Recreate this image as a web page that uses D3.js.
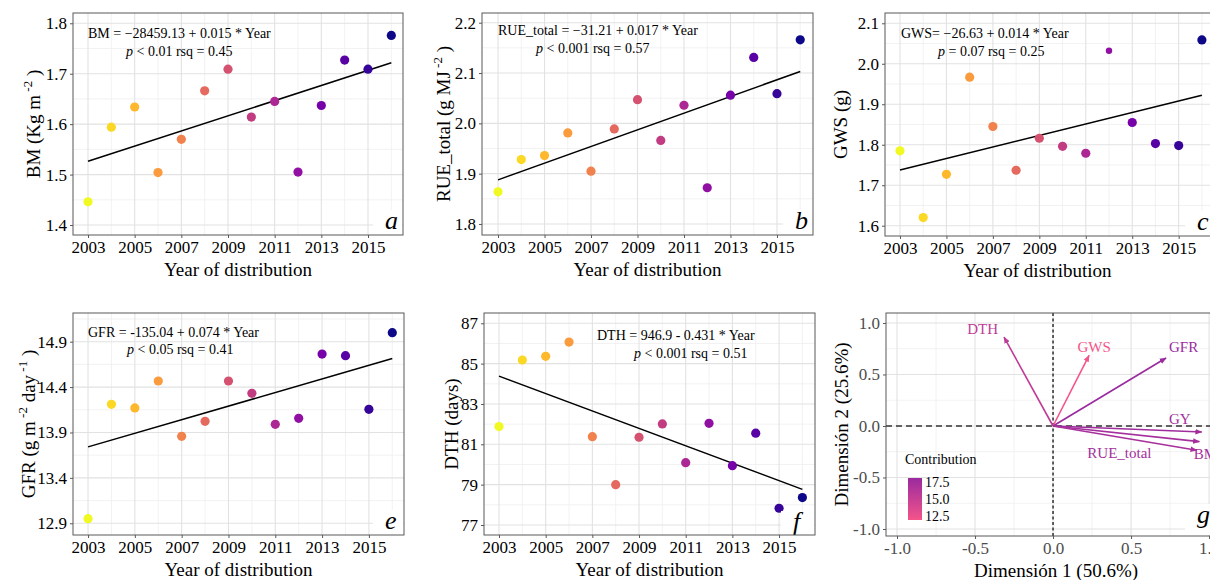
<!DOCTYPE html>
<html>
<head>
<meta charset="utf-8">
<script src="https://d3js.org/d3.v7.min.js"></script>
<style>
  body { margin: 0; background: #fff; }
  svg, svg text { font-family: "Liberation Serif", "Times New Roman", serif; }
</style>
</head>
<body>
<svg id="chart" width="1210" height="580"></svg>
<script>
// data
const years = [2003, 2004, 2005, 2006, 2007, 2008, 2009, 2010, 2011, 2012, 2013, 2014, 2015, 2016];
const bm  = [1.446, 1.594, 1.634, 1.504, 1.570, 1.666, 1.709, 1.614, 1.645, 1.505, 1.637, 1.727, 1.709, 1.776];
const rue = [1.864, 1.928, 1.936, 1.981, 1.905, 1.989, 2.047, 1.966, 2.036, 1.872, 2.056, 2.131, 2.059, 2.166];
const gws = [1.785, 1.620, 1.727, 1.967, 1.845, 1.737, 1.816, 1.796, 1.779, 2.032, 1.855, 1.803, 1.798, 2.059];
const gfr = [12.951, 14.210, 14.170, 14.467, 13.858, 14.023, 14.467, 14.331, 13.990, 14.056, 14.764, 14.746, 14.155, 14.999];
const dth = [81.88, 85.18, 85.36, 86.07, 81.38, 79.00, 81.35, 82.01, 80.09, 82.04, 79.94, 81.55, 77.83, 78.36];

const yearTicks = [2003, 2005, 2007, 2009, 2011, 2013, 2015];
const bmTicks  = [1.4, 1.5, 1.6, 1.7, 1.8];
const rueTicks = [1.8, 1.9, 2.0, 2.1, 2.2];
const gwsTicks = [1.6, 1.7, 1.8, 1.9, 2.0, 2.1];
const gfrTicks = [12.9, 13.4, 13.9, 14.4, 14.9];
const dthTicks = [77, 79, 81, 83, 85, 87];
const gwsSmallYear = 2012;

const pcaVars    = ["DTH", "GWS", "GFR", "GY", "RUE_total", "BM"];
const pcaDim1    = [-0.314, 0.231, 0.724, 0.953, 0.938, 0.921];
const pcaDim2    = [0.863, 0.686, 0.660, -0.058, -0.152, -0.235];
const pcaContrib = [15.6, 11.9, 18.1, 17.6, 17.4, 17.2];
const pcaTicks   = [-1.0, -0.5, 0.0, 0.5, 1.0];
const contribTicks = [12.5, 15.0, 17.5];

// label placement next to each arrow tip (dx, dy, anchor)
const pcaNudge = [[-6, -3, "end"], [5, -3, "middle"], [3, -6, "start"], [-22, -8, "middle"], [-80, 16, "middle"], [-3, 9, "start"]];

const svg = d3.select("#chart");
const ink = "#595959";
const serif = "'Liberation Serif', 'Times New Roman', serif";
const pointColor = i => d3.interpolatePlasma(1 - i / (years.length - 1));

const panels = [
  { key: "a", values: bm, ticks: bmTicks, fmt: d3.format(".1f"),
    box: [73, 403, 13, 235], xd: [2002.357, 2016.5], yd: [1.3802, 1.8204],
    title: [["BM (Kg m"], [" -2", 1], [" )"]], titleX: 40,
    eq: [88, 38, "BM = \u221228459.13 + 0.015 * Year"], eq2: [126, 56, " < 0.01 rsq = 0.45"],
    letter: [385, 229] },
  { key: "b", values: rue, ticks: rueTicks, fmt: d3.format(".1f"),
    box: [482, 813, 13, 235], xd: [2002.31, 2016.55], yd: [1.7781, 2.2193],
    title: [["RUE_total (g MJ"], [" -2", 1], [" )"]], titleX: 450,
    eq: [498, 35, "RUE_total = \u221231.21 + 0.017 * Year"], eq2: [536, 53, " < 0.001 rsq = 0.57"],
    letter: [795, 229] },
  { key: "c", values: gws, ticks: gwsTicks, fmt: d3.format(".1f"),
    box: [885, 1217, 13, 236], xd: [2002.355, 2016.65], yd: [1.5746, 2.1254],
    title: [["GWS (g)"]], titleX: 847,
    eq: [901, 38, "GWS= \u221226.63 + 0.014 * Year"], eq2: [938, 56, " = 0.07 rsq = 0.25"],
    letter: [1197, 230] },
  { key: "e", values: gfr, ticks: gfrTicks, fmt: d3.format(".1f"),
    box: [73, 404, 313, 535], xd: [2002.357, 2016.5], yd: [12.771, 15.216],
    title: [["GFR (g m"], [" -2", 1], [" day"], [" -1", 1], [" )"]], titleX: 35,
    eq: [88, 337, "GFR = -135.04 + 0.074 * Year"], eq2: [127, 354, " < 0.05 rsq = 0.41"],
    letter: [385, 529] },
  { key: "f", values: dth, ticks: dthTicks, fmt: d3.format("d"),
    box: [484, 815, 313, 535], xd: [2002.357, 2016.54], yd: [76.504, 87.51],
    title: [["DTH (days)"]], titleX: 458,
    eq: [597, 340, "DTH = 946.9 - 0.431 * Year"], eq2: [634, 358, " < 0.001 rsq = 0.51"],
    letter: [793, 530] }
];

function minorTicks(ticks, domain) {
  const step = ticks[1] - ticks[0], out = [];
  for (let v = ticks[0] - step / 2; v <= domain[1]; v += step) {
    if (v >= domain[0]) out.push(v);
  }
  return out;
}

function fit(xs, ys) {
  const mx = d3.mean(xs), my = d3.mean(ys);
  let sxy = 0, sxx = 0;
  xs.forEach((x, i) => { sxy += (x - mx) * (ys[i] - my); sxx += (x - mx) * (x - mx); });
  const b = sxy / sxx;
  return x => my + b * (x - mx);
}

function frame(g, box, x, y, xMajor, xMinor, yMajor, yMinor) {
  const [x0, x1, y0, y1] = box;
  g.append("rect").attr("x", x0).attr("y", y0).attr("width", x1 - x0).attr("height", y1 - y0).attr("fill", "#fff");
  g.selectAll(".vmin").data(xMinor).join("line")
    .attr("x1", d => x(d)).attr("x2", d => x(d)).attr("y1", y0).attr("y2", y1)
    .attr("stroke", "#efefef").attr("stroke-width", 0.8);
  g.selectAll(".hmin").data(yMinor).join("line")
    .attr("y1", d => y(d)).attr("y2", d => y(d)).attr("x1", x0).attr("x2", x1)
    .attr("stroke", "#efefef").attr("stroke-width", 0.8);
  g.selectAll(".vmaj").data(xMajor).join("line")
    .attr("x1", d => x(d)).attr("x2", d => x(d)).attr("y1", y0).attr("y2", y1)
    .attr("stroke", "#e2e2e2").attr("stroke-width", 1.1);
  g.selectAll(".hmaj").data(yMajor).join("line")
    .attr("y1", d => y(d)).attr("y2", d => y(d)).attr("x1", x0).attr("x2", x1)
    .attr("stroke", "#e2e2e2").attr("stroke-width", 1.1);
}

function border(g, box) {
  const [x0, x1, y0, y1] = box;
  g.append("rect").attr("x", x0).attr("y", y0).attr("width", x1 - x0).attr("height", y1 - y0)
    .attr("fill", "none").attr("stroke", ink).attr("stroke-width", 1);
}

function styleAxis(sel, color, size) {
  sel.attr("font-family", serif).attr("font-size", size);
  sel.select(".domain").remove();
  sel.selectAll(".tick line").attr("stroke", ink);
  sel.selectAll(".tick text").attr("fill", color).style("font-size", size + "px")
    .style("font-family", serif);
}

function yTitle(g, parts, xPos, yMid) {
  const t = g.append("text").attr("transform", `translate(${xPos},${yMid}) rotate(-90)`)
    .attr("text-anchor", "middle").style("font-size", "19px").attr("fill", "#000");
  let raised = false;
  parts.forEach(([s, sup]) => {
    const ts = t.append("tspan").text(s);
    if (sup) { ts.attr("dy", -8).style("font-size", "13px"); raised = true; }
    else if (raised) { ts.attr("dy", 8); raised = false; }
  });
}

function letter(g, pos, box, ch) {
  g.append("rect").attr("x", pos[0] - 12).attr("y", pos[1] - 19)
    .attr("width", box[1] - 1 - (pos[0] - 12)).attr("height", box[3] - 1 - (pos[1] - 19))
    .attr("fill", "#fff");
  g.append("text").attr("x", pos[0]).attr("y", pos[1]).text(ch)
    .style("font-size", "26px").style("font-style", "italic").attr("fill", "#000");
}

panels.forEach(p => {
  const g = svg.append("g");
  const [x0, x1, y0, y1] = p.box;
  const x = d3.scaleLinear().domain(p.xd).range([x0, x1]);
  const y = d3.scaleLinear().domain(p.yd).range([y1, y0]);
  const xMinor = years.filter(v => !yearTicks.includes(v));
  frame(g, p.box, x, y, yearTicks, xMinor, p.ticks, minorTicks(p.ticks, p.yd));

  const line = fit(years, p.values);
  const ends = [years[0], years[years.length - 1]];
  g.append("path")
    .attr("d", d3.line().x(d => x(d)).y(d => y(line(d)))(ends))
    .attr("stroke", "#000").attr("stroke-width", 1.5).attr("fill", "none");

  g.selectAll(".pt").data(years).join("circle")
    .attr("cx", d => x(d)).attr("cy", (d, i) => y(p.values[i]))
    .attr("r", d => (p.key === "c" && d === gwsSmallYear) ? 3.2 : 4.6)
    .attr("fill", (d, i) => pointColor(i));

  letter(g, p.letter, p.box, p.key);
  border(g, p.box);

  g.append("g").attr("transform", `translate(0,${y1})`)
    .call(d3.axisBottom(x).tickValues(yearTicks).tickFormat(d3.format("d")).tickSize(3).tickPadding(3))
    .call(s => styleAxis(s, "#000", 17));
  g.append("g").attr("transform", `translate(${x0},0)`)
    .call(d3.axisLeft(y).tickValues(p.ticks).tickFormat(p.fmt).tickSize(3).tickPadding(3))
    .call(s => styleAxis(s, "#000", 17));

  g.append("text").attr("x", (x0 + Math.min(x1, 1210)) / 2 + (p.key === "c" ? -10 : 0))
    .attr("y", y1 + 41).attr("text-anchor", "middle")
    .style("font-size", "19px").text("Year of distribution");
  yTitle(g, p.title, p.titleX, (y0 + y1) / 2);

  g.append("text").attr("x", p.eq[0]).attr("y", p.eq[1]).style("font-size", "14px").text(p.eq[2]);
  const t2 = g.append("text").attr("x", p.eq2[0]).attr("y", p.eq2[1]).style("font-size", "14px");
  t2.append("tspan").style("font-style", "italic").text("p");
  t2.append("tspan").text(p.eq2[2]);
});

// panel g: PCA variable plot
(function () {
  const box = [886, 1215, 313, 536];
  const [x0, x1, y0, y1] = box;
  const g = svg.append("g");
  const x = d3.scaleLinear().domain([-1.0705, 1.038]).range([x0, x1]);
  const y = d3.scaleLinear().domain([-1.068, 1.097]).range([y1, y0]);
  const minor = minorTicks(pcaTicks, [-1.07, 1.1]);
  frame(g, box, x, y, pcaTicks, minor.filter(v => v > x.domain()[0] && v < x.domain()[1]),
        pcaTicks, minor.filter(v => v > y.domain()[0] && v < y.domain()[1]));

  g.append("line").attr("x1", x0).attr("x2", x1).attr("y1", y(0)).attr("y2", y(0))
    .attr("stroke", "#333").attr("stroke-width", 1.3).attr("stroke-dasharray", "6,4");
  g.append("line").attr("x1", x(0)).attr("x2", x(0)).attr("y1", y0).attr("y2", y1)
    .attr("stroke", "#222").attr("stroke-width", 1.4).attr("stroke-dasharray", "3,2.5");

  const cExtent = [11.9, 18.1];
  const cColor = d3.scaleLinear().domain(cExtent).range(["#f4548a", "#9a2a9f"]);

  const defs = svg.append("defs");
  pcaVars.forEach((v, i) => {
    defs.append("marker").attr("id", "arr" + i).attr("viewBox", "0 0 10 10")
      .attr("refX", 9).attr("refY", 5).attr("markerWidth", 7).attr("markerHeight", 7)
      .attr("markerUnits", "userSpaceOnUse").attr("orient", "auto")
      .append("path").attr("d", "M0,1 L10,5 L0,9 Z").attr("fill", cColor(pcaContrib[i]));
  });

  g.selectAll(".arrow").data(pcaVars).join("line")
    .attr("x1", x(0)).attr("y1", y(0))
    .attr("x2", (d, i) => x(pcaDim1[i])).attr("y2", (d, i) => y(pcaDim2[i]))
    .attr("stroke", (d, i) => cColor(pcaContrib[i])).attr("stroke-width", 1.6)
    .attr("marker-end", (d, i) => `url(#arr${i})`);

  g.selectAll(".lab").data(pcaVars).join("text")
    .attr("x", (d, i) => x(pcaDim1[i]) + pcaNudge[i][0])
    .attr("y", (d, i) => y(pcaDim2[i]) + pcaNudge[i][1])
    .attr("text-anchor", (d, i) => pcaNudge[i][2])
    .attr("fill", (d, i) => cColor(pcaContrib[i]))
    .style("font-size", "15px").text(d => d);

  // legend
  const lg = g.append("g");
  lg.append("text").attr("x", 905).attr("y", 464).style("font-size", "14px").text("Contribution");
  const ly = d3.scaleLinear().domain(cExtent).range([520, 478]);
  const grad = defs.append("linearGradient").attr("id", "cgrad")
    .attr("x1", 0).attr("x2", 0).attr("y1", 1).attr("y2", 0);
  grad.append("stop").attr("offset", "0%").attr("stop-color", cColor(cExtent[0]));
  grad.append("stop").attr("offset", "100%").attr("stop-color", cColor(cExtent[1]));
  lg.append("rect").attr("x", 908).attr("y", ly(cExtent[1])).attr("width", 14)
    .attr("height", ly(cExtent[0]) - ly(cExtent[1])).attr("fill", "url(#cgrad)");
  lg.selectAll(".ct").data(contribTicks).join("text")
    .attr("x", 925).attr("y", d => ly(d)).attr("dy", "0.35em")
    .style("font-size", "14px").text(d => d.toFixed(1));

  letter(g, [1197, 523], box, "g");
  border(g, box);

  const fmt = d => d.toFixed(1);
  g.append("g").attr("transform", `translate(0,${y1})`)
    .call(d3.axisBottom(x).tickValues(pcaTicks).tickFormat(fmt).tickSize(3).tickPadding(3))
    .call(s => styleAxis(s, "#4d4d4d", 17));
  g.append("g").attr("transform", `translate(${x0},0)`)
    .call(d3.axisLeft(y).tickValues(pcaTicks).tickFormat(fmt).tickSize(3).tickPadding(3))
    .call(s => styleAxis(s, "#4d4d4d", 17));

  g.append("text").attr("x", 1056).attr("y", 577).attr("text-anchor", "middle")
    .style("font-size", "19px").text("Dimensión 1 (50.6%)");
  yTitle(g, [["Dimensión 2 (25.6%)"]], 848, (y0 + y1) / 2);
})();
</script>
</body>
</html>
